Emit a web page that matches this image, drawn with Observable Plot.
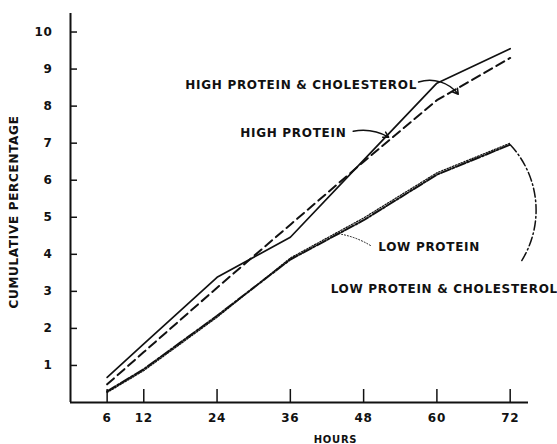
<!DOCTYPE html>
<html><head><meta charset="utf-8">
<script src="https://cdn.jsdelivr.net/npm/d3@7"></script>
<script src="https://cdn.jsdelivr.net/npm/@observablehq/plot@0.6"></script>
<style>body{margin:0;background:#fff}</style>
</head><body><div id="chart"></div>
<script>
// Data
const hours = [6, 12, 24, 36, 48, 60, 72];
const highProtein     = [0.68, 1.58, 3.38, 4.46, 6.54, 8.62, 9.55];
const highProteinChol = [0.49, 1.36, 3.10, 4.80, 6.50, 8.16, 9.30];
const lowProtein      = [0.27, 0.86, 2.30, 3.90, 4.98, 6.20, 7.00];
const lowProteinChol  = [0.30, 0.90, 2.34, 3.86, 4.92, 6.15, 6.96];
const xTicks = [6, 12, 24, 36, 48, 60, 72];
const yTicks = [1, 2, 3, 4, 5, 6, 7, 8, 9, 10];
const yTitle = "CUMULATIVE PERCENTAGE";
const xTitle = "HOURS";

// Annotation labels (data coordinates)
const labelText = ["HIGH PROTEIN & CHOLESTEROL", "HIGH PROTEIN", "LOW PROTEIN", "LOW PROTEIN & CHOLESTEROL"];
const labelX = [18.8, 27.8, 50.4, 42.6];
const labelY = [8.57, 7.27, 4.19, 3.05];
// Leader arrows (data coordinates)
const arrowFrom = [[57.0, 8.65], [46.3, 7.32], [49.1, 4.24], [72.05, 6.95]];
const arrowTo   = [[63.5, 8.32], [52.1, 7.16], [44.4, 4.54], [73.7, 3.78]];

const W = 557, H = 444;
const mL = 70, mR = 29, mT = 13, mB = 42;

const mk = (vals, series) => hours.map((h, i) => ({hour: h, value: vals[i], series}));
const table = [
  ...mk(highProtein, "HP"), ...mk(highProteinChol, "HPC"),
  ...mk(lowProtein, "LP"), ...mk(lowProteinChol, "LPC")
];
const labels = labelText.map((t, i) => ({text: t, x: labelX[i], y: labelY[i]}));
const arrows = arrowFrom.map((a, i) => ({x1: a[0], y1: a[1], x2: arrowTo[i][0], y2: arrowTo[i][1]}));

const ink = "#111";
const chart = Plot.plot({
  width: W, height: H,
  marginLeft: mL, marginRight: mR, marginTop: mT, marginBottom: mB,
  style: {fontFamily: "DejaVu Sans", fontWeight: "bold", fontSize: "12px", color: ink, background: "#fff", letterSpacing: "0.7px"},
  x: {domain: [0, 75]},
  y: {domain: [0, 10.5]},
  marks: [
    // axes lines
    Plot.ruleX([0], {stroke: ink, strokeWidth: 2}),
    Plot.ruleY([0], {stroke: ink, strokeWidth: 2}),
    // inward ticks
    Plot.tickY(yTicks, {y: d => d, stroke: ink, strokeWidth: 1.5, insetRight: W - mL - mR - 7}),
    Plot.tickX(xTicks, {x: d => d, stroke: ink, strokeWidth: 1.5, insetTop: H - mT - mB - 13}),
    Plot.axisY(yTicks, {tickSize: 0, tickPadding: 18, fontSize: 12, fontWeight: "bold", label: null}),
    Plot.axisX(xTicks, {tickSize: 0, tickPadding: 11, fontSize: 12, fontWeight: "bold", label: null}),
    // titles
    Plot.text([yTitle], {frameAnchor: "left", textAnchor: "middle", dx: -56, dy: 4, rotate: -90, fontSize: 12, fontWeight: "bold"}),
    Plot.text([xTitle], {frameAnchor: "bottom", textAnchor: "middle", dx: 36, dy: 40, fontSize: 10, fontWeight: "bold"}),
    // series
    Plot.line(table.filter(d => d.series === "HP"), {x: "hour", y: "value", stroke: ink, strokeWidth: 1.7}),
    Plot.line(table.filter(d => d.series === "HPC"), {x: "hour", y: "value", stroke: ink, strokeWidth: 2, strokeDasharray: "9,5"}),
    Plot.line(table.filter(d => d.series === "LPC"), {x: "hour", y: "value", stroke: ink, strokeWidth: 2, strokeDasharray: "10,2,2,2"}),
    Plot.line(table.filter(d => d.series === "LP"), {x: "hour", y: "value", stroke: ink, strokeWidth: 1.2, strokeDasharray: "1.5,1.5"}),
    // annotation labels
    Plot.text(labels, {x: "x", y: "y", text: "text", textAnchor: "start", fontSize: 12, fontWeight: "bold", fill: ink}),
    // leaders
    Plot.arrow([arrows[0]], {x1: "x1", y1: "y1", x2: "x2", y2: "y2", bend: 35, headLength: 6, stroke: ink, strokeWidth: 1.5}),
    Plot.arrow([arrows[1]], {x1: "x1", y1: "y1", x2: "x2", y2: "y2", bend: 20, headLength: 6, stroke: ink, strokeWidth: 1.5}),
    Plot.arrow([arrows[2]], {x1: "x1", y1: "y1", x2: "x2", y2: "y2", bend: -10, headLength: 0, stroke: ink, strokeWidth: 1, strokeDasharray: "1,2"}),
    Plot.arrow([arrows[3]], {x1: "x1", y1: "y1", x2: "x2", y2: "y2", bend: 38, headLength: 0, stroke: ink, strokeWidth: 1.5, strokeDasharray: "9,3,1.5,3"})
  ]
});
document.getElementById("chart").appendChild(chart);
</script>
</body></html>
